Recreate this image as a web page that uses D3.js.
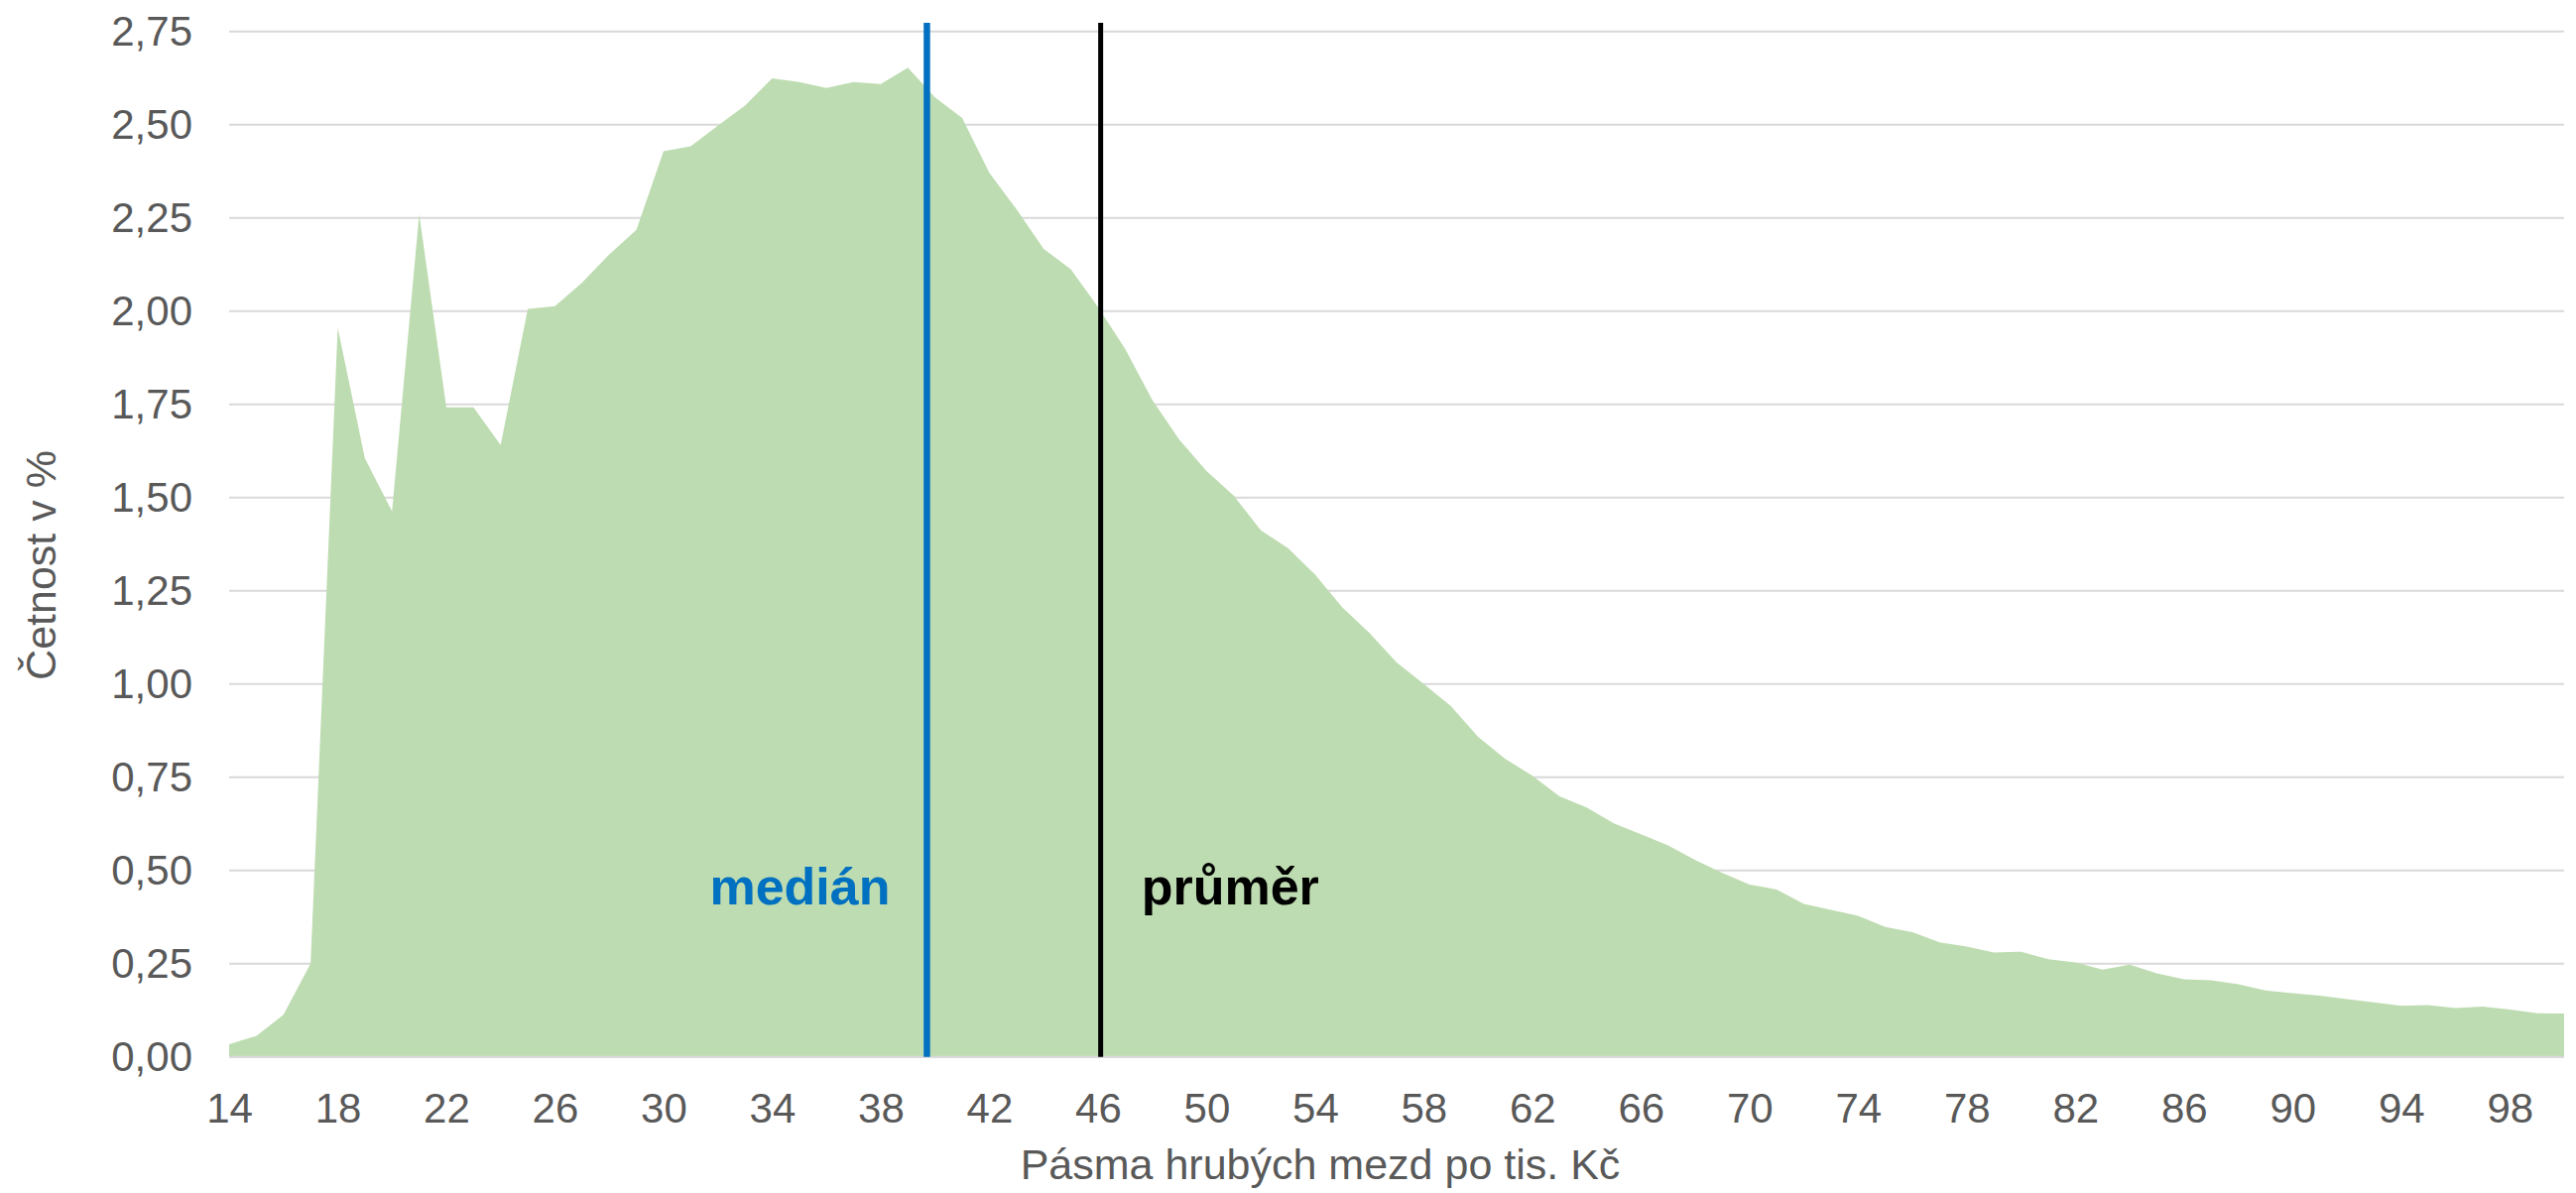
<!DOCTYPE html>
<html>
<head>
<meta charset="utf-8">
<script src="https://cdn.jsdelivr.net/npm/d3@7"></script>
<style>
  html, body { margin: 0; padding: 0; background: #ffffff; }
  svg { display: block; }
  text { font-family: "Liberation Sans", Arial, sans-serif; }
</style>
</head>
<body>
<svg id="chart" width="2597" height="1203"></svg>
<script>
// ---- data ----
const categories = [14,15,16,17,18,19,20,21,22,23,24,25,26,27,28,29,30,31,32,33,34,35,36,37,38,39,40,
  41,42,43,44,45,46,47,48,49,50,51,52,53,54,55,56,57,58,59,60,61,62,63,64,65,66,67,68,69,70,
  71,72,73,74,75,76,77,78,79,80,81,82,83,84,85,86,87,88,89,90,91,92,93,94,95,96,97,98,99,100];
const shares = [0.034,0.056,0.113,0.250,1.955,1.605,1.463,2.260,1.742,1.742,1.641,2.006,2.013,2.076,2.152,
  2.218,2.429,2.442,2.497,2.551,2.624,2.614,2.598,2.614,2.609,2.653,2.573,2.518,2.371,2.273,2.167,2.112,
  2.011,1.899,1.762,1.655,1.571,1.505,1.412,1.364,1.293,1.205,1.137,1.058,1.000,0.941,0.858,0.799,0.754,
  0.699,0.669,0.626,0.597,0.567,0.528,0.493,0.462,0.449,0.410,0.394,0.378,0.348,0.334,0.307,0.296,0.280,
  0.282,0.262,0.253,0.234,0.247,0.224,0.208,0.205,0.195,0.178,0.171,0.164,0.155,0.146,0.137,0.139,0.131,
  0.135,0.127,0.117,0.116];
const xTickLabels = [14,18,22,26,30,34,38,42,46,50,54,58,62,66,70,74,78,82,86,90,94,98];
const yTickValues = [0,0.25,0.5,0.75,1,1.25,1.5,1.75,2,2.25,2.5,2.75];
const markers = [
  {name: "medián", value: 39.7, color: "#0070C0", width: 6.5, side: "left"},
  {name: "průměr", value: 46.1, color: "#000000", width: 5, side: "right"}
];
const xTitle = "Pásma hrubých mezd po tis. Kč";
const yTitle = "Četnost v %";

// ---- layout ----
const plot = {left: 231, right: 2585, top: 31.7, bottom: 1065.7};
const svg = d3.select("#chart");
const x = d3.scaleLinear().domain([14, 100]).range([plot.left, plot.right]);
const y = d3.scaleLinear().domain([0, 2.75]).range([plot.bottom, plot.top]);
const locale = d3.formatLocale({decimal: ",", thousands: "\u00a0", grouping: [3], currency: ["", " Kč"]});
const fmt = locale.format(".2f");
const textColor = "#595959";

// gridlines
svg.append("g").selectAll("line").data(yTickValues).join("line")
  .attr("x1", plot.left).attr("x2", plot.right)
  .attr("y1", d => y(d)).attr("y2", d => y(d))
  .attr("stroke", "#d9d9d9").attr("stroke-width", 2);

// area
const rows = categories.map((c, i) => ({c, v: shares[i]}));
svg.append("path").datum(rows)
  .attr("fill", "#bedcb1")
  .attr("d", d3.area().x(d => x(d.c)).y0(y(0)).y1(d => y(d.v)));

// baseline axis line
svg.append("line")
  .attr("x1", plot.left).attr("x2", plot.right)
  .attr("y1", y(0)).attr("y2", y(0))
  .attr("stroke", "#d9d9d9").attr("stroke-width", 2);

// y axis
const yAxis = svg.append("g").attr("transform", `translate(${plot.left},0)`)
  .call(d3.axisLeft(y).tickValues(yTickValues).tickFormat(fmt).tickSize(0).tickPadding(37));
yAxis.select(".domain").remove();
yAxis.selectAll("text").attr("font-size", 42).attr("fill", textColor)
  .style("font-family", '"Liberation Sans", Arial, sans-serif');

// x axis
const xAxis = svg.append("g").attr("transform", `translate(0,${plot.bottom})`)
  .call(d3.axisBottom(x).tickValues(xTickLabels).tickFormat(d => d).tickSize(0).tickPadding(36));
xAxis.select(".domain").remove();
xAxis.selectAll("text").attr("font-size", 42).attr("fill", textColor)
  .style("font-family", '"Liberation Sans", Arial, sans-serif');

// marker lines
svg.append("g").selectAll("line").data(markers).join("line")
  .attr("x1", d => x(d.value)).attr("x2", d => x(d.value))
  .attr("y1", y(2.773)).attr("y2", y(0))
  .attr("stroke", d => d.color).attr("stroke-width", d => d.width);

svg.append("g").selectAll("text").data(markers).join("text")
  .attr("x", d => d.side === "left" ? x(d.value) - 37 : x(d.value) + 41)
  .attr("y", y(0.41))
  .attr("text-anchor", d => d.side === "left" ? "end" : "start")
  .attr("font-size", 52).attr("font-weight", "bold")
  .attr("fill", d => d.color)
  .text(d => d.name);

// axis titles
svg.append("text").attr("x", 1331).attr("y", 1189)
  .attr("text-anchor", "middle").attr("font-size", 43).attr("fill", textColor)
  .text(xTitle);
svg.append("text").attr("transform", "translate(56,570) rotate(-90)")
  .attr("text-anchor", "middle").attr("font-size", 43).attr("fill", textColor)
  .text(yTitle);
</script>
</body>
</html>
